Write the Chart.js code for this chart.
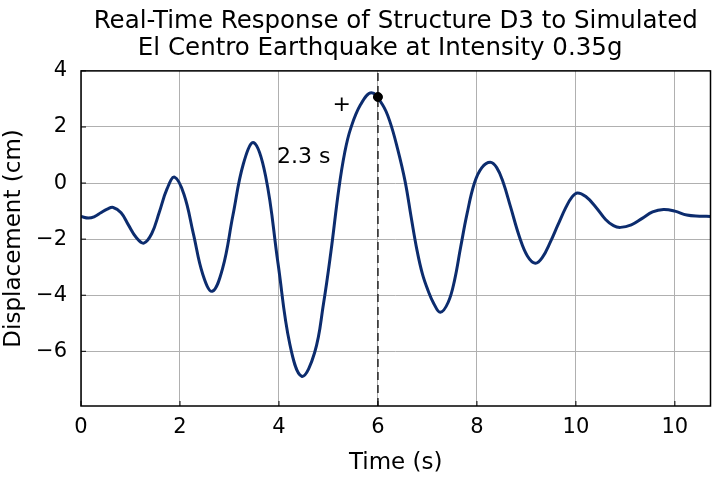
<!DOCTYPE html>
<html>
<head>
<meta charset="utf-8">
<script src="https://cdn.jsdelivr.net/npm/chart.js@4/dist/chart.umd.min.js"></script>
<style>
html, body { margin: 0; padding: 0; background: #fff; }
</style>
</head>
<body>
<canvas id="chart" width="716" height="481"></canvas>
<script>
// values
var time = [0.00, 0.15, 0.28, 0.40, 0.53, 0.65, 0.81, 0.96, 1.12, 1.27, 1.43, 1.58, 1.74, 1.89,
    2.08, 2.27, 2.46, 2.65, 2.86, 3.07, 3.28, 3.49, 3.73, 3.98, 4.22, 4.46, 4.72, 4.90, 5.05, 5.21,
    5.33, 5.45, 5.65, 5.87, 6.09, 6.24, 6.40, 6.55, 6.67, 6.79, 6.90, 7.01, 7.13, 7.26, 7.42, 7.55,
    7.67, 7.80, 7.95, 8.10, 8.27, 8.40, 8.53, 8.68, 8.86, 9.02, 9.18, 9.32, 9.49, 9.63, 9.80, 9.92,
    10.03, 10.20, 10.40, 10.60, 10.76, 10.90, 11.12, 11.34, 11.55, 11.77, 12.00, 12.24, 12.50, 12.72]
var displacement = [-1.19, -1.25, -1.19, -1.06, -0.93, -0.87, -1.06, -1.50, -1.95, -2.14, -1.80, -1.05, -0.20, 0.21,
    -0.40, -1.80, -3.25, -3.86, -3.05, -1.15, 0.68, 1.44, 0.25, -2.85, -5.75, -6.89, -6.05, -4.30, -2.45, -0.20,
    1.10, 1.95, 2.80, 3.22, 2.80, 2.20, 1.20, 0.05, -1.20, -2.40, -3.25, -3.82, -4.30, -4.61, -4.25, -3.45,
    -2.30, -1.10, 0.00, 0.55, 0.74, 0.55, 0.03, -0.85, -1.92, -2.60, -2.86, -2.66, -2.08, -1.52, -0.86, -0.50,
    -0.35, -0.48, -0.85, -1.30, -1.52, -1.58, -1.49, -1.26, -1.03, -0.94, -1.00, -1.14, -1.18, -1.19]
var xTicks = [0, 2, 4, 6, 8, 10, 12]
var xTickLabels = ['0', '2', '4', '6', '8', '10', '10']
var yTicks = [-6, -4, -2, 0, 2, 4]
var xRange = [0, 12.72]
var yRange = [-7.95, 4]
var markerTime = 6
var markerValue = 3.07
var notes = [['+', 5.27, 2.79, 'center'], ['2.3 s', 3.96, 0.93, 'left']]
var titleLines = ['Real-Time Response of Structure D3 to Simulated', 'El Centro Earthquake at Intensity 0.35g    ']

Chart.defaults.font.family = 'DejaVu Sans'
Chart.defaults.color = '#000'

var curve = time.map(function (t, i) { return { x: t, y: displacement[i] } })

var framePlugin = {
    id: 'frame',
    afterDatasetsDraw: function (chart) {
        var ctx = chart.ctx
        var a = chart.chartArea
        var xs = chart.scales.x, ys = chart.scales.y
        ctx.save()
        ctx.strokeStyle = '#000'
        ctx.lineWidth = 1
        // inward ticks
        ctx.beginPath()
        xTicks.forEach(function (v) {
            var px = xs.getPixelForValue(v)
            ctx.moveTo(px, a.bottom)
            ctx.lineTo(px, a.bottom - 5)
        })
        yTicks.forEach(function (v) {
            var py = ys.getPixelForValue(v)
            ctx.moveTo(a.left, py)
            ctx.lineTo(a.left + 5, py)
        })
        ctx.stroke()
        ctx.lineWidth = 1.5
        ctx.strokeRect(a.left, a.top, a.right - a.left, a.bottom - a.top)
        // text notes
        ctx.fillStyle = '#000'
        ctx.font = '22px "DejaVu Sans"'
        ctx.textBaseline = 'middle'
        notes.forEach(function (n) {
            ctx.textAlign = n[3]
            ctx.fillText(n[0], xs.getPixelForValue(n[1]), ys.getPixelForValue(n[2]))
        })
        ctx.restore()
    }
}

new Chart(document.getElementById('chart').getContext('2d'), {
    type: 'line',
    data: {
        datasets: [{
            data: curve,
            borderColor: '#0c2c6e',
            borderWidth: 3,
            pointRadius: 0,
            tension: 0.4,
            order: 3
        }, {
            data: [{ x: markerTime, y: yRange[0] }, { x: markerTime, y: yRange[1] }],
            borderColor: '#222',
            borderWidth: 1.5,
            borderDash: [8, 5],
            pointRadius: 0,
            order: 2
        }, {
            data: [{ x: markerTime, y: markerValue }],
            showLine: false,
            pointRadius: 4.5,
            pointBackgroundColor: '#000',
            pointBorderColor: '#000',
            order: 1
        }]
    },
    options: {
        responsive: false,
        animation: false,
        layout: { padding: { left: 0, right: 2, top: 0, bottom: 0 } },
        plugins: {
            legend: { display: false },
            tooltip: { enabled: false },
            title: {
                display: true,
                fullSize: false,
                text: titleLines,
                color: '#000',
                font: { size: 24.5, weight: 'normal', lineHeight: 1.1 },
                padding: { top: 8, bottom: 9 }
            }
        },
        scales: {
            x: {
                type: 'linear',
                min: xRange[0],
                max: xRange[1],
                afterBuildTicks: function (scale) {
                    scale.ticks = xTicks.map(function (v) { return { value: v } })
                },
                afterFit: function (scale) { scale.height = 75 },
                ticks: {
                    font: { size: 21 },
                    color: '#000',
                    padding: 9,
                    maxRotation: 0,
                    callback: function (v) { return xTickLabels[xTicks.indexOf(v)] }
                },
                grid: { color: '#b0b0b0', lineWidth: 1, drawTicks: false },
                border: { display: false },
                title: { display: true, text: 'Time (s)', font: { size: 23 }, color: '#000', padding: { top: 4, bottom: 4 } }
            },
            y: {
                min: yRange[0],
                max: yRange[1],
                afterBuildTicks: function (scale) {
                    scale.ticks = yTicks.map(function (v) { return { value: v } })
                },
                afterFit: function (scale) { scale.width = 81 },
                ticks: {
                    font: { size: 21 },
                    color: '#000',
                    padding: 14,
                    callback: function (v) { return v < 0 ? '\u2212' + Math.abs(v) : String(v) }
                },
                grid: { color: '#b0b0b0', lineWidth: 1, drawTicks: false },
                border: { display: false },
                title: { display: true, text: 'Displacement (cm)', font: { size: 23 }, color: '#000', padding: { top: 0, bottom: 4 } }
            }
        }
    },
    plugins: [framePlugin]
})
</script>
</body>
</html>
